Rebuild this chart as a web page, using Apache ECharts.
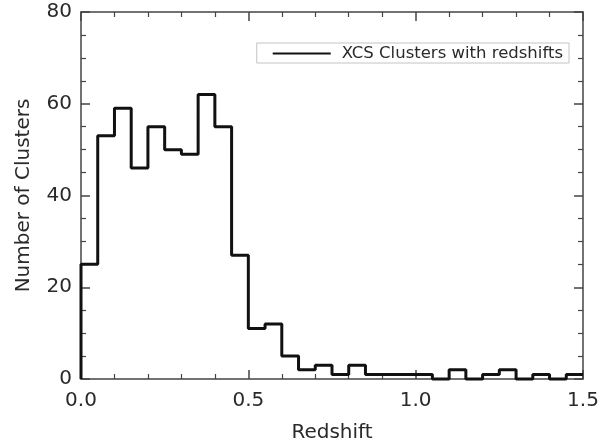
<!DOCTYPE html>
<html>
<head>
<meta charset="utf-8">
<script src="https://cdn.jsdelivr.net/npm/echarts@6/dist/echarts.min.js"></script>
<style>
  html, body { margin: 0; padding: 0; background: #fff; }
  #chart { width: 600px; height: 439px; }
</style>
</head>
<body>
<div id="chart"></div>
<script>
// left edge of each redshift bin (width 0.05)
const binStart = [0.00, 0.05, 0.10, 0.15, 0.20, 0.25, 0.30, 0.35, 0.40, 0.45,
                  0.50, 0.55, 0.60, 0.65, 0.70, 0.75, 0.80, 0.85, 0.90, 0.95,
                  1.00, 1.05, 1.10, 1.15, 1.20, 1.25, 1.30, 1.35, 1.40, 1.45];
const counts = [25, 53, 59, 46, 55, 50, 49, 62, 55, 27,
                11, 12, 5, 2, 3, 1, 3, 1, 1, 1,
                1, 0, 2, 0, 1, 2, 0, 1, 0, 1];
const xEnd = 1.5;
const seriesName = 'XCS Clusters with redshifts';

// build step points: start at zero, then each bin left edge, close at last edge
const points = [[binStart[0], 0]];
binStart.forEach((x, i) => points.push([x, counts[i]]));
points.push([xEnd, counts[counts.length - 1]]);

const font = "'DejaVu Sans', 'Liberation Sans', sans-serif";
const axisColor = '#444';
const textColor = '#2a2a2a';

const chart = echarts.init(document.getElementById('chart'), null, { renderer: 'canvas' });

const baseAxis = {
  axisLine: { show: true, onZero: false, lineStyle: { color: axisColor, width: 1.5 } },
  axisTick: { show: true, inside: true, length: 9, lineStyle: { color: axisColor, width: 1.5 } },
  minorTick: { show: true, length: 5, lineStyle: { color: axisColor, width: 1.2 } },
  splitLine: { show: false },
  axisLabel: { color: textColor, fontSize: 20, fontFamily: font }
};

const option = {
  backgroundColor: '#fff',
  animation: false,
  grid: { left: 81, right: 17, top: 12, bottom: 60, containLabel: false, outerBoundsMode: 'none' },
  legend: {
    data: [{ name: seriesName, icon: 'rect' }],
    right: 31,
    top: 43,
    itemWidth: 58,
    itemHeight: 2,
    padding: [2, 6, 1, 16],
    borderColor: '#c4c4c4',
    borderWidth: 1,
    borderRadius: 0,
    itemStyle: { color: '#111' },
    textStyle: { color: textColor, fontSize: 16.5, fontFamily: font, padding: [0, 0, 0, 6] }
  },
  xAxis: [
    Object.assign({}, baseAxis, {
      type: 'value', min: 0, max: xEnd, interval: 0.5,
      minorTick: Object.assign({}, baseAxis.minorTick, { splitNumber: 5 }),
      axisLabel: Object.assign({}, baseAxis.axisLabel, {
        margin: 12, formatter: v => v.toFixed(1)
      }),
      name: 'Redshift', nameLocation: 'middle', nameGap: 44,
      nameTextStyle: { color: textColor, fontSize: 20, fontFamily: font }
    }),
    Object.assign({}, baseAxis, {
      type: 'value', position: 'top', min: 0, max: xEnd, interval: 0.5,
      minorTick: Object.assign({}, baseAxis.minorTick, { splitNumber: 5 }),
      axisLabel: { show: false }
    })
  ],
  yAxis: [
    Object.assign({}, baseAxis, {
      type: 'value', min: 0, max: 80, interval: 20,
      minorTick: Object.assign({}, baseAxis.minorTick, { splitNumber: 4 }),
      axisLabel: Object.assign({}, baseAxis.axisLabel, { margin: 9 }),
      name: 'Number of Clusters', nameLocation: 'middle', nameGap: 47,
      nameTextStyle: { color: textColor, fontSize: 20, fontFamily: font }
    }),
    Object.assign({}, baseAxis, {
      type: 'value', position: 'right', min: 0, max: 80, interval: 20,
      minorTick: Object.assign({}, baseAxis.minorTick, { splitNumber: 4 }),
      axisLabel: { show: false }
    })
  ],
  series: [
    {
      name: seriesName,
      type: 'line',
      step: 'end',
      data: points,
      showSymbol: false,
      symbol: 'none',
      color: '#111',
      lineStyle: { color: '#111', width: 3 },
      clip: false
    }
  ]
};

chart.setOption(option);
</script>
</body>
</html>
